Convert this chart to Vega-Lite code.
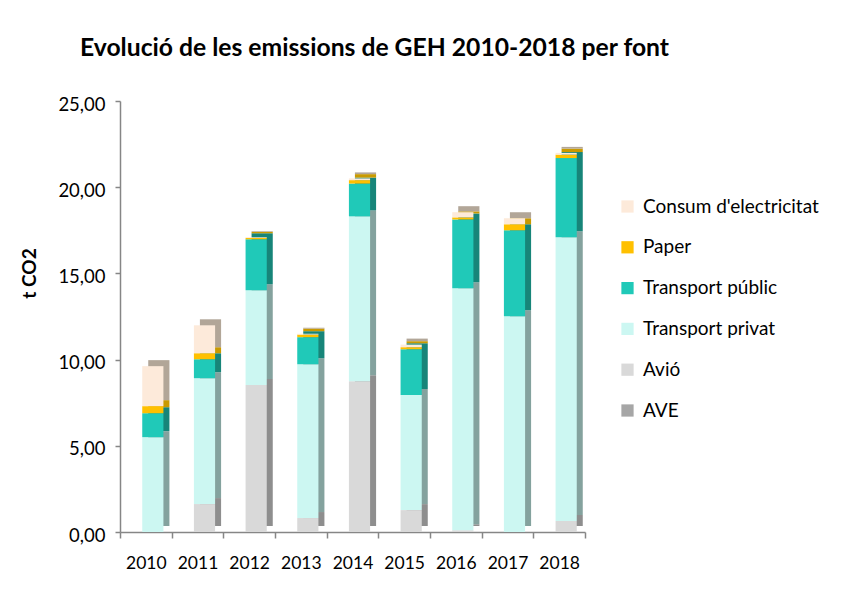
{
  "$schema": "https://vega.github.io/schema/vega-lite/v6.json",
  "width": 465,
  "height": 431,
  "autosize": "none",
  "padding": {"left": 120, "top": 101, "right": 258, "bottom": 74},
  "background": "white",
  "config": {
    "view": {"stroke": null},
    "locale": {"number": {"decimal": ",", "thousands": ".", "grouping": [3], "currency": ["", " €"]}},
    "font": "Lato"
  },
  "title": {
    "text": "Evolució de les emissions de GEH 2010-2018 per font",
    "anchor": "start",
    "frame": "group",
    "dx": -40,
    "offset": 34,
    "font": "Lato",
    "fontSize": 24.7,
    "fontWeight": "bold",
    "color": "#000000"
  },
  "data": {
    "values": [
      {"year": "2010", "source": "AVE", "value": 0, "ord": 1},
      {"year": "2010", "source": "Avió", "value": 0, "ord": 2},
      {"year": "2010", "source": "Transport privat", "value": 5.5, "ord": 3},
      {"year": "2010", "source": "Transport públic", "value": 1.39, "ord": 4},
      {"year": "2010", "source": "Paper", "value": 0.41, "ord": 5},
      {"year": "2010", "source": "Consum d'electricitat", "value": 2.32, "ord": 6},
      {"year": "2011", "source": "AVE", "value": 0, "ord": 1},
      {"year": "2011", "source": "Avió", "value": 1.62, "ord": 2},
      {"year": "2011", "source": "Transport privat", "value": 7.3, "ord": 3},
      {"year": "2011", "source": "Transport públic", "value": 1.1, "ord": 4},
      {"year": "2011", "source": "Paper", "value": 0.35, "ord": 5},
      {"year": "2011", "source": "Consum d'electricitat", "value": 1.62, "ord": 6},
      {"year": "2012", "source": "AVE", "value": 0, "ord": 1},
      {"year": "2012", "source": "Avió", "value": 8.52, "ord": 2},
      {"year": "2012", "source": "Transport privat", "value": 5.5, "ord": 3},
      {"year": "2012", "source": "Transport públic", "value": 2.96, "ord": 4},
      {"year": "2012", "source": "Paper", "value": 0.08, "ord": 5},
      {"year": "2012", "source": "Consum d'electricitat", "value": 0.04, "ord": 6},
      {"year": "2013", "source": "AVE", "value": 0, "ord": 1},
      {"year": "2013", "source": "Avió", "value": 0.81, "ord": 2},
      {"year": "2013", "source": "Transport privat", "value": 8.92, "ord": 3},
      {"year": "2013", "source": "Transport públic", "value": 1.57, "ord": 4},
      {"year": "2013", "source": "Paper", "value": 0.15, "ord": 5},
      {"year": "2013", "source": "Consum d'electricitat", "value": 0.05, "ord": 6},
      {"year": "2014", "source": "AVE", "value": 0, "ord": 1},
      {"year": "2014", "source": "Avió", "value": 8.75, "ord": 2},
      {"year": "2014", "source": "Transport privat", "value": 9.56, "ord": 3},
      {"year": "2014", "source": "Transport públic", "value": 1.9, "ord": 4},
      {"year": "2014", "source": "Paper", "value": 0.2, "ord": 5},
      {"year": "2014", "source": "Consum d'electricitat", "value": 0.1, "ord": 6},
      {"year": "2015", "source": "AVE", "value": 0, "ord": 1},
      {"year": "2015", "source": "Avió", "value": 1.27, "ord": 2},
      {"year": "2015", "source": "Transport privat", "value": 6.67, "ord": 3},
      {"year": "2015", "source": "Transport públic", "value": 2.66, "ord": 4},
      {"year": "2015", "source": "Paper", "value": 0.12, "ord": 5},
      {"year": "2015", "source": "Consum d'electricitat", "value": 0.15, "ord": 6},
      {"year": "2016", "source": "AVE", "value": 0, "ord": 1},
      {"year": "2016", "source": "Avió", "value": 0.1, "ord": 2},
      {"year": "2016", "source": "Transport privat", "value": 14.04, "ord": 3},
      {"year": "2016", "source": "Transport públic", "value": 3.99, "ord": 4},
      {"year": "2016", "source": "Paper", "value": 0.12, "ord": 5},
      {"year": "2016", "source": "Consum d'electricitat", "value": 0.3, "ord": 6},
      {"year": "2017", "source": "AVE", "value": 0, "ord": 1},
      {"year": "2017", "source": "Avió", "value": 0, "ord": 2},
      {"year": "2017", "source": "Transport privat", "value": 12.51, "ord": 3},
      {"year": "2017", "source": "Transport públic", "value": 4.99, "ord": 4},
      {"year": "2017", "source": "Paper", "value": 0.35, "ord": 5},
      {"year": "2017", "source": "Consum d'electricitat", "value": 0.35, "ord": 6},
      {"year": "2018", "source": "AVE", "value": 0, "ord": 1},
      {"year": "2018", "source": "Avió", "value": 0.64, "ord": 2},
      {"year": "2018", "source": "Transport privat", "value": 16.45, "ord": 3},
      {"year": "2018", "source": "Transport públic", "value": 4.6, "ord": 4},
      {"year": "2018", "source": "Paper", "value": 0.2, "ord": 5},
      {"year": "2018", "source": "Consum d'electricitat", "value": 0.1, "ord": 6}
    ]
  },
  "encoding": {
    "x": {
      "field": "year",
      "type": "ordinal",
      "scale": {"paddingInner": 0, "paddingOuter": 0},
      "axis": {
        "title": null,
        "labelAngle": 0,
        "labelFontSize": 17.5,
        "labelColor": "#000000",
        "labelPadding": 16,
        "domainColor": "#868686",
        "domainWidth": 1.5,
        "tickColor": "#868686",
        "tickWidth": 1.5,
        "tickSize": 6,
        "tickBand": "extent",
        "grid": false
      }
    },
    "y": {
      "field": "value",
      "type": "quantitative",
      "aggregate": "sum",
      "stack": "zero",
      "scale": {"domain": [0, 25], "nice": false},
      "axis": {
        "title": "t CO2",
        "titleFontSize": 19,
        "titleFontWeight": "bold",
        "titleColor": "#000000",
        "titleX": -91,
        "titleY": 172,
        "titleAngle": -90,
        "titleAlign": "center",
        "titleBaseline": "middle",
        "values": [0, 5, 10, 15, 20, 25],
        "format": ".2f",
        "labelFontSize": 18.5,
        "labelColor": "#000000",
        "labelPadding": 10,
        "labelOffset": 3,
        "domainColor": "#868686",
        "domainWidth": 1.5,
        "tickColor": "#868686",
        "tickWidth": 1.5,
        "tickSize": 5,
        "grid": false
      }
    },
    "order": {"field": "ord", "type": "quantitative", "aggregate": "min"}
  },
  "layer": [
    {
      "mark": {"type": "bar", "width": {"band": 0.41}, "xOffset": 13, "yOffset": -6},
      "encoding": {
        "color": {
          "field": "source",
          "type": "nominal",
          "scale": {
            "domain": ["Consum d'electricitat", "Paper", "Transport públic", "Transport privat", "Avió", "AVE"],
            "range": ["#B2A698", "#C99A00", "#178579", "#84A29E", "#8E8E8E", "#6E6E6E"]
          },
          "legend": null
        }
      }
    },
    {
      "mark": {"type": "bar", "width": {"band": 0.41}, "xOffset": 7},
      "encoding": {
        "color": {
          "field": "source",
          "type": "nominal",
          "scale": {
            "domain": ["Consum d'electricitat", "Paper", "Transport públic", "Transport privat", "Avió", "AVE"],
            "range": ["#FDEADA", "#FFC000", "#20C9B8", "#CCF7F2", "#D9D9D9", "#A6A6A6"]
          },
          "legend": {
            "title": null,
            "orient": "none",
            "legendX": 498,
            "legendY": 96,
            "symbolType": "square",
            "symbolSize": 150,
            "symbolStrokeWidth": 0,
            "labelFontSize": 19,
            "labelLimit": 400,
            "labelColor": "#000000",
            "labelOffset": 6,
            "rowPadding": 20.8
          }
        }
      }
    }
  ],
  "resolve": {"scale": {"color": "independent"}}
}
